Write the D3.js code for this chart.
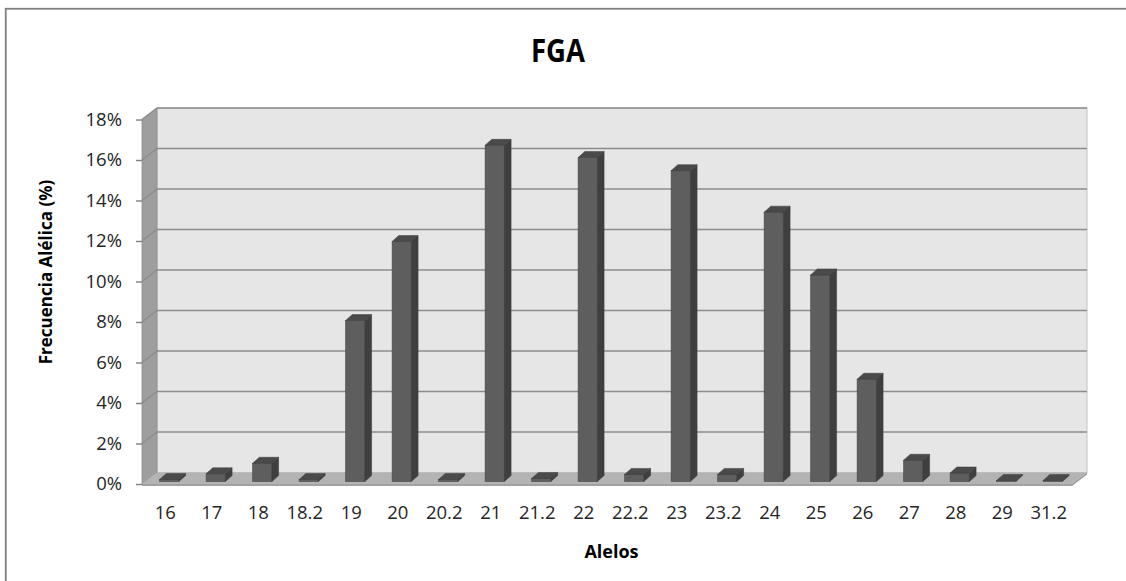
<!DOCTYPE html>
<html><head><meta charset="utf-8">
<script src="https://cdn.jsdelivr.net/npm/d3@7"></script>
<style>
html,body{margin:0;padding:0;background:#fff;}
svg{display:block;font-family:"Open Sans",sans-serif;}
</style></head>
<body>
<svg id="chart" width="1126" height="581"></svg>
<script>
const categories = ["16","17","18","18.2","19","20","20.2","21","21.2","22","22.2","23","23.2","24","25","26","27","28","29","31.2"];
const frequencies = [0.1,0.38,0.9,0.1,7.95,11.85,0.1,16.6,0.15,16.0,0.35,15.35,0.35,13.3,10.2,5.05,1.05,0.42,0.05,0.05];
const yTicks = [0,2,4,6,8,10,12,14,16,18];
const chartTitle = "FGA";
const xTitle = "Alelos";
const yTitle = "Frecuencia Alélica (%)";

const svg = d3.select("#chart");
const X0 = 142, X1 = 1072;
const DX = 15, DY = -11.5;           // wall depth
const BOX = 4, BOY = -2.5;            // bar plane offset
const BDX = 6.7, BDY = -6;            // bar depth

const x = d3.scaleBand().domain(categories).range([X0, X1]).paddingInner(0).paddingOuter(0);
const y = d3.scaleLinear().domain([0, 18]).range([484, 119.5]);
const barW = x.bandwidth() * 0.415;

// outer frame
svg.append("rect").attr("x",5.75).attr("y",8.75).attr("width",1300).attr("height",800)
  .attr("fill","none").attr("stroke","#808080").attr("stroke-width",1.8);

// back wall
svg.append("rect").attr("x",X0+DX).attr("y",y(18)+DY).attr("width",X1-X0).attr("height",y(0)-y(18))
  .attr("fill","#e6e6e6").attr("stroke","#c4c4c4").attr("stroke-width",1);
// side wall
svg.append("polygon")
  .attr("points",[[X0,y(18)],[X0+DX,y(18)+DY],[X0+DX,y(0)+DY],[X0,y(0)]].map(p=>p.join(",")).join(" "))
  .attr("fill","#9e9e9e").attr("stroke","#8a8a8a").attr("stroke-width",0.8);
// floor
svg.append("polygon")
  .attr("points",[[X0,y(0)],[X1,y(0)],[X1+DX,y(0)+DY],[X0+DX,y(0)+DY]].map(p=>p.join(",")).join(" "))
  .attr("fill","#b3b3b3");
svg.append("rect").attr("x",X0).attr("y",y(0)).attr("width",X1-X0).attr("height",2)
  .attr("fill","#a2a2a2");
svg.append("polygon")
  .attr("points",[[X1,y(0)],[X1+DX,y(0)+DY],[X1+DX,y(0)+DY+2],[X1,y(0)+2]].map(p=>p.join(",")).join(" "))
  .attr("fill","#9a9a9a");

// gridlines
const grid = svg.append("g");
yTicks.filter(v=>v>0).forEach(v=>{
  grid.append("line").attr("x1",X0+DX).attr("x2",X1+DX).attr("y1",y(v)+DY).attr("y2",y(v)+DY)
    .attr("stroke","#8c8c8c").attr("stroke-width",1.6);
  grid.append("line").attr("x1",X0).attr("x2",X0+DX).attr("y1",y(v)).attr("y2",y(v)+DY)
    .attr("stroke","#8c8c8c").attr("stroke-width",1.4);
});

// bars
const bars = svg.append("g").selectAll("g").data(categories.map((c,i)=>({c, v: frequencies[i]}))).join("g");
bars.each(function(d){
  const g = d3.select(this);
  const bx = x(d.c) + BOX + (x.bandwidth() - barW)/2;
  const base = y(0) + BOY;
  const top = y(d.v) + BOY;
  g.append("rect").attr("x",bx).attr("y",top).attr("width",barW).attr("height",Math.max(0,base-top))
    .attr("fill","#5e5e5e").attr("stroke","#4a4a4a").attr("stroke-width",0.6);
  g.append("polygon")
    .attr("points",[[bx+barW,top],[bx+barW+BDX,top+BDY],[bx+barW+BDX,base+BDY],[bx+barW,base]].map(p=>p.join(",")).join(" "))
    .attr("fill","#3f3f3f").attr("stroke","#3a3a3a").attr("stroke-width",0.5);
  g.append("polygon")
    .attr("points",[[bx,top],[bx+BDX,top+BDY],[bx+barW+BDX,top+BDY],[bx+barW,top]].map(p=>p.join(",")).join(" "))
    .attr("fill","#4a4a4a").attr("stroke","#3c3c3c").attr("stroke-width",0.5);
});

// y axis
const yAxis = svg.append("g").attr("transform",`translate(${X0},0)`)
  .call(d3.axisLeft(y).tickValues(yTicks).tickFormat(d=>d+"%").tickSize(6).tickPadding(14));
yAxis.select(".domain").remove();
yAxis.selectAll(".tick line").attr("stroke","#808080").attr("stroke-width",1.4);
yAxis.selectAll("text").attr("font-size",18.5).attr("fill","#262626").attr("font-family","Open Sans");

// x axis
const xAxis = svg.append("g").attr("transform",`translate(0,${y(0)})`)
  .call(d3.axisBottom(x).tickSize(0).tickPadding(22));
xAxis.select(".domain").remove();
xAxis.selectAll("text").attr("font-size",18.5).attr("fill","#262626").attr("font-family","Open Sans");

// titles
svg.append("text").attr("x",558).attr("y",62).attr("text-anchor","middle")
  .attr("font-size",32).attr("font-weight","bold").attr("fill","#000")
  .attr("textLength",54).attr("lengthAdjust","spacingAndGlyphs").text(chartTitle);
svg.append("text").attr("x",611.5).attr("y",558).attr("text-anchor","middle")
  .attr("font-size",18).attr("font-weight","bold").attr("fill","#000").text(xTitle);
svg.append("text").attr("transform","translate(52,272) rotate(-90)").attr("text-anchor","middle")
  .attr("font-size",17).attr("font-weight","bold").attr("fill","#000").text(yTitle);
</script>
</body></html>
